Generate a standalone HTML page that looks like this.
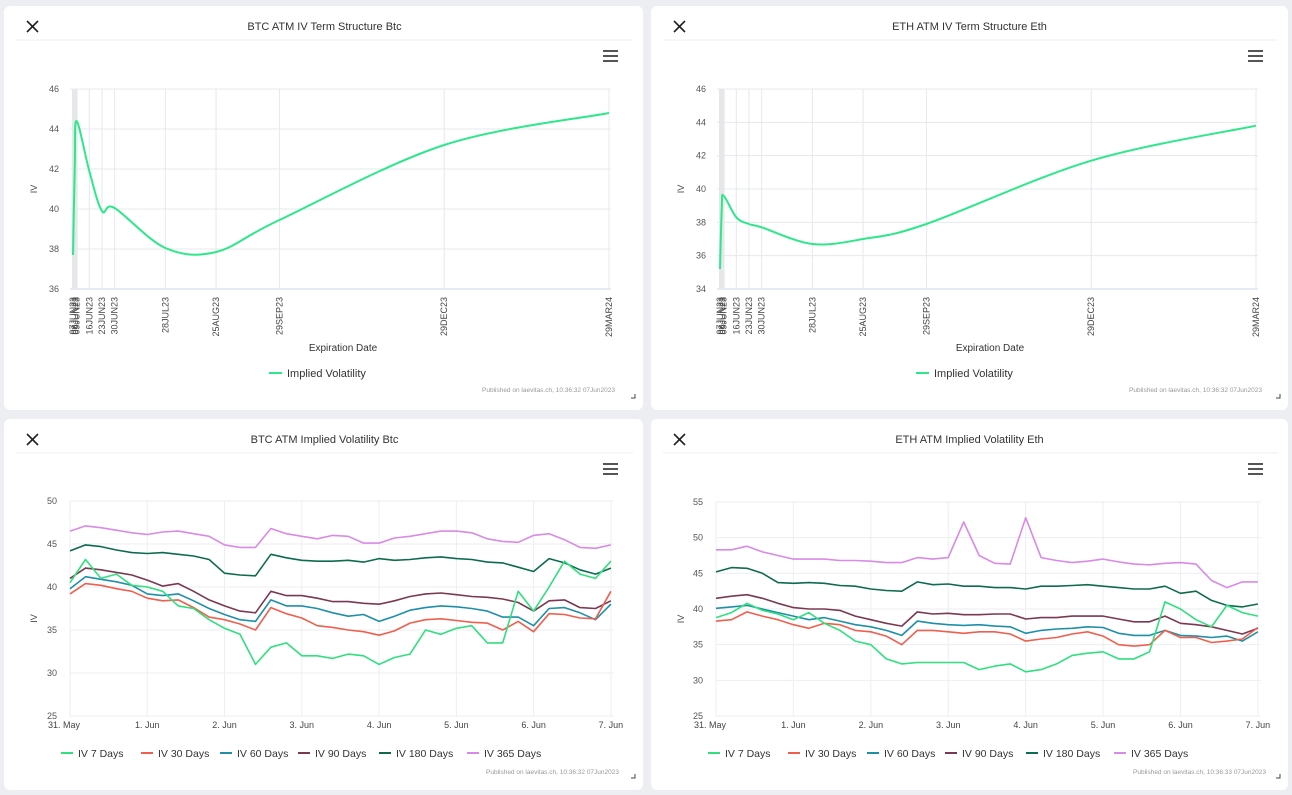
<!DOCTYPE html>
<html><head><meta charset="utf-8"><style>
html,body{margin:0;padding:0;background:#eceef1;}
svg{display:block;font-family:"Liberation Sans",sans-serif;}
</style></head><body>
<svg id="s" width="1292" height="795" viewBox="0 0 1292 795"></svg>
<script>
// ---------- DATA ----------
const expiryLabels=["07JUN23","08JUN23","09JUN23","16JUN23","23JUN23","30JUN23","28JUL23","25AUG23","29SEP23","29DEC23","29MAR24"];
const expiryDays=[0,1,2,9,16,23,51,79,114,205,296];
const btcTermIV=[37.7,42.2,44.4,41.9,39.9,40.05,38.05,37.85,39.45,43.2,44.8];
const ethTermIV=[35.2,38.9,39.6,38.3,37.9,37.7,36.7,37.0,37.9,41.7,43.8];
const btcTermTicks=[36,38,40,42,44,46];
const ethTermTicks=[34,36,38,40,42,44,46];

const dayTickLabels=["31. May","1. Jun","2. Jun","3. Jun","4. Jun","5. Jun","6. Jun","7. Jun"];
const seriesNames=["IV 7 Days","IV 30 Days","IV 60 Days","IV 90 Days","IV 180 Days","IV 365 Days"];
const btcTicks=[25,30,35,40,45,50];
const ethTicks=[25,30,35,40,45,50,55];
// samples every 0.2 day starting 31 May 00:00
const btc7=[40.5,43.2,41.0,41.5,40.2,40.0,39.5,37.8,37.5,36.2,35.2,34.5,31.0,33.0,33.5,32.0,32.0,31.7,32.2,32.0,31.0,31.8,32.2,35.0,34.5,35.2,35.5,33.5,33.5,39.5,37.2,40.0,43.0,41.5,41.0,43.0];
const btc30=[39.2,40.4,40.2,39.8,39.5,38.7,38.4,38.5,37.6,36.5,36.2,35.7,35.0,37.6,36.9,36.4,35.5,35.3,35.0,34.8,34.4,34.9,35.8,36.2,36.3,36.1,35.9,35.8,35.0,36.0,34.8,36.9,36.8,36.4,36.3,39.5];
const btc60=[39.8,41.2,40.9,40.6,40.2,39.2,39.0,39.2,38.4,37.5,36.8,36.2,36.0,38.5,37.8,37.8,37.5,37.0,36.6,36.8,36.0,36.6,37.3,37.6,37.8,37.7,37.5,37.2,36.5,36.5,35.5,37.5,37.6,37.0,36.2,38.0];
const btc90=[41.0,42.2,42.0,41.7,41.4,40.8,40.1,40.4,39.5,38.5,37.8,37.2,37.0,39.5,39.0,39.0,38.7,38.3,38.3,38.1,38.0,38.4,38.9,39.2,39.3,39.1,38.9,38.8,38.6,38.2,37.2,38.4,38.5,37.6,37.5,38.4];
const btc180=[44.2,44.9,44.7,44.3,44.0,43.9,44.0,43.8,43.6,43.2,41.6,41.4,41.3,43.8,43.4,43.1,43.0,43.0,43.1,42.9,43.3,43.1,43.2,43.4,43.5,43.3,43.2,42.9,42.8,42.3,41.8,43.3,42.8,42.0,41.5,42.2];
const btc365=[46.5,47.1,46.9,46.6,46.3,46.1,46.4,46.5,46.2,45.9,44.9,44.6,44.6,46.8,46.2,45.9,45.6,46.0,45.9,45.1,45.1,45.7,45.9,46.2,46.5,46.5,46.3,45.6,45.3,45.2,46.0,46.2,45.5,44.6,44.5,44.9];
const eth7=[38.8,39.5,40.8,39.8,39.3,38.5,39.5,38.0,37.0,35.5,35.0,33.0,32.3,32.5,32.5,32.5,32.5,31.5,32.0,32.3,31.2,31.5,32.3,33.5,33.8,34.0,33.0,33.0,34.0,41.0,40.0,38.5,37.5,40.5,39.5,39.0];
const eth30=[38.3,38.5,39.6,39.0,38.5,37.8,37.3,38.0,37.8,37.0,36.8,36.2,35.0,37.0,37.0,36.8,36.6,36.8,36.8,36.5,35.5,35.8,36.0,36.5,36.8,36.2,35.0,34.8,35.0,37.0,36.0,36.0,35.3,35.5,35.8,37.4];
const eth60=[40.1,40.3,40.5,40.0,39.5,39.0,38.5,38.8,38.3,37.8,37.5,37.0,36.3,38.3,38.0,37.8,37.7,37.8,37.6,37.5,36.6,37.0,37.2,37.3,37.5,37.4,36.6,36.3,36.3,37.0,36.3,36.2,36.0,36.2,35.5,36.8];
const eth90=[41.5,41.8,42.0,41.5,40.8,40.2,40.0,40.0,39.8,39.0,38.5,38.0,37.6,39.6,39.3,39.4,39.2,39.2,39.3,39.3,38.6,38.8,38.8,39.0,39.0,39.0,38.6,38.2,38.2,39.0,38.0,37.8,37.5,37.0,36.5,37.3];
const eth180=[45.2,45.8,45.7,45.0,43.7,43.6,43.7,43.6,43.3,43.2,42.8,42.6,42.5,43.8,43.4,43.5,43.2,43.2,43.0,43.0,42.8,43.2,43.2,43.3,43.4,43.2,43.0,42.8,42.8,43.2,42.2,42.5,41.2,40.5,40.3,40.7];
const eth365=[48.3,48.3,48.8,48.0,47.5,47.0,47.0,47.0,46.8,46.8,46.7,46.5,46.5,47.2,47.0,47.2,52.2,47.5,46.4,46.3,52.8,47.2,46.8,46.5,46.7,47.0,46.6,46.3,46.2,46.4,46.5,46.3,44.0,43.0,43.8,43.8];
const seriesColors=["#2fe07e","#ef5f4e","#1f8fa8","#7a3852","#0e6b4f","#d98ae6"];

// ---------- HELPERS ----------
const NS="http://www.w3.org/2000/svg";
const S=document.getElementById('s');
function mk(tag,attrs,parent,text){const e=document.createElementNS(NS,tag);for(const k in attrs)e.setAttribute(k,attrs[k]);if(text!==undefined)e.textContent=text;(parent||S).appendChild(e);return e;}
function catmull(pts){let d="M"+pts[0][0]+","+pts[0][1];for(let i=0;i<pts.length-1;i++){const p0=pts[Math.max(0,i-1)],p1=pts[i],p2=pts[i+1],p3=pts[Math.min(pts.length-1,i+2)];const t=6;const c1=[p1[0]+(p2[0]-p0[0])/t,p1[1]+(p2[1]-p0[1])/t];const c2=[p2[0]-(p3[0]-p1[0])/t,p2[1]-(p3[1]-p1[1])/t];d+=" C"+c1[0].toFixed(1)+","+c1[1].toFixed(1)+" "+c2[0].toFixed(1)+","+c2[1].toFixed(1)+" "+p2[0].toFixed(1)+","+p2[1].toFixed(1);}return d;}

function card(x,y,w,h,title,name){
  const g=mk('g',{});
  
  
  mk('rect',{x:x,y:y,width:w,height:h,rx:6,fill:'#fff'},g);
  const t=mk('text',{x:x+w/2-(name.indexOf('btc')===0?-1:0)+ (name.indexOf('term')>0?0:0),y:y+24,'text-anchor':'middle','font-size':11,fill:'#333'},g,title);
  
  
  const cx=mk('g',{stroke:'#222','stroke-width':1.6},g);
  
  
  mk('line',{x1:x+23,y1:y+15,x2:x+34,y2:y+26},cx);mk('line',{x1:x+34,y1:y+15,x2:x+23,y2:y+26},cx);
  mk('line',{x1:x+12,y1:y+34,x2:x+w-10,y2:y+34,stroke:'#eef0f2','stroke-width':1},g);
  const m=mk('g',{stroke:'#555','stroke-width':2},g);
  
  
  for(let i=0;i<3;i++)mk('line',{x1:x+w-40,y1:y+45+i*5,x2:x+w-25,y2:y+45+i*5},m);
  mk('path',{d:`M${x+w-8},${y+h-16} v4 h-4`,stroke:'#444',fill:'none','stroke-width':1},g);
  return g;
}

function termChart(g,ox,x0,x1,yTop,yBot,ticks,vals,name){
  const lo=ticks[0],hi=ticks[ticks.length-1];
  const maxD=expiryDays[expiryDays.length-1];
  const X=d=>x0+d*(x1-x0)/maxD, Y=v=>yBot-(v-lo)*(yBot-yTop)/(hi-lo);
  ticks.forEach(t=>{
    mk('line',{x1:x0-3,x2:x1+2,y1:Y(t),y2:Y(t),stroke:'#e6e8ec'},g);
    const l=mk('text',{x:x0-14,y:Y(t)+3,'text-anchor':'end','font-size':9,fill:'#555'},g,t);
    
    
  });
  mk('line',{x1:x0-3,x2:x1+2,y1:yBot,y2:yBot,stroke:'#ccd6eb'},g);
  mk('rect',{x:X(0)-1,y:yTop,width:X(2)-X(0)+2,height:yBot-yTop,fill:'#e6e6e6'},g);
  expiryDays.forEach((d,i)=>{
    mk('line',{x1:X(d),x2:X(d),y1:yTop,y2:yBot,stroke:'#e6e8ec'},g);
    const l=mk('text',{x:0,y:0,transform:`translate(${X(d)+3},${yBot+8}) rotate(-90)`,'text-anchor':'end','font-size':9,fill:'#444'},g,expiryLabels[i]);
    
    
  });
  const yt=mk('text',{x:0,y:0,transform:`translate(${ox+33},${(yTop+yBot)/2}) rotate(-90)`,'text-anchor':'middle','font-size':9,fill:'#444'},g,'IV');
  
  
  const xt=mk('text',{x:(x0+x1)/2+2,y:yBot+62,'text-anchor':'middle','font-size':10,fill:'#333'},g,'Expiration Date');
  
  
  const pts=expiryDays.map((d,i)=>[X(d),Y(vals[i])]);
  const p=mk('path',{d:catmull(pts),fill:'none',stroke:'#2de88a','stroke-width':2},g);
  
  
  const lg=mk('g',{},g);
  
  
  mk('line',{x1:ox+265,x2:ox+278,y1:yBot+84,y2:yBot+84,stroke:'#2de88a','stroke-width':2},lg);
  mk('text',{x:ox+283,y:yBot+88,'font-size':11,fill:'#333'},lg,'Implied Volatility');
  const pub=mk('text',{x:x1+6,y:yBot+103,'text-anchor':'end','font-size':6.5,fill:'#999'},g,'Published on laevitas.ch, 10:36:32 07Jun2023');
  
  
}

function tsChart(g,ox,x0,x1,yTop,yBot,ticks,series,pubTime){
  const lo=ticks[0],hi=ticks[ticks.length-1];
  const dayPx=(x1-x0)/7.04;
  const X=d=>x0+d*dayPx, Y=v=>yBot-(v-lo)*(yBot-yTop)/(hi-lo);
  ticks.forEach(t=>{
    mk('line',{x1:x0,x2:x1,y1:Y(t),y2:Y(t),stroke:'#eceef1'},g);
    const l=mk('text',{x:x0-13,y:Y(t)+3,'text-anchor':'end','font-size':9,fill:'#555'},g,t);
    
    
  });
  dayTickLabels.forEach((lab,i)=>{
    mk('line',{x1:X(i),x2:X(i),y1:yTop,y2:yBot,stroke:'#eceef1'},g);
    const l=mk('text',{x:X(i)+(i===0?-6:0),y:yBot+12,'text-anchor':'middle','font-size':9,fill:'#444'},g,lab);
    
    
  });
  const yt=mk('text',{x:0,y:0,transform:`translate(${ox+33},${(yTop+yBot)/2+10}) rotate(-90)`,'text-anchor':'middle','font-size':9,fill:'#444'},g,'IV');
  
  
  for(let s=series.length-1;s>=0;s--){
    const vals=series[s];
    const d=vals.map((v,i)=>(i?'L':'M')+X(i*0.2).toFixed(1)+','+Y(v).toFixed(1)).join(' ');
    const p=mk('path',{d:d,fill:'none',stroke:seriesColors[s],'stroke-width':1.6,'stroke-linejoin':'round'},g);
    
    
  }
  const legX=[0,80,159,237,318,406];
  seriesNames.forEach((n,i)=>{
    const lg=mk('g',{},g);
    
    
    const lx=ox+57+legX[i];
    mk('line',{x1:lx,x2:lx+12,y1:yBot+37,y2:yBot+37,stroke:seriesColors[i],'stroke-width':2},lg);
    mk('text',{x:lx+17,y:yBot+41,'font-size':10.5,fill:'#333'},lg,n);
  });
  const pub=mk('text',{x:x1+5,y:yBot+58,'text-anchor':'end','font-size':6.5,fill:'#999'},g,'Published on laevitas.ch, '+pubTime+' 07Jun2023');
  
  
}

// ---------- BUILD ----------
const c1=card(4,6,639,404,'BTC ATM IV Term Structure Btc','btc-term-structure-card');
termChart(c1,4,73,609,89,289,btcTermTicks,btcTermIV);
const c2=card(651,6,637,404,'ETH ATM IV Term Structure Eth','eth-term-structure-card');
termChart(c2,651,720,1256,89,289,ethTermTicks,ethTermIV);
const c3=card(4,419,639,371,'BTC ATM Implied Volatility Btc','btc-implied-volatility-card');
tsChart(c3,4,70,614,501,716,btcTicks,[btc7,btc30,btc60,btc90,btc180,btc365],'10:36:32');
const c4=card(651,419,637,371,'ETH ATM Implied Volatility Eth','eth-implied-volatility-card');
tsChart(c4,651,716,1261,502,716,ethTicks,[eth7,eth30,eth60,eth90,eth180,eth365],'10:36:33');
</script>
</body></html>
